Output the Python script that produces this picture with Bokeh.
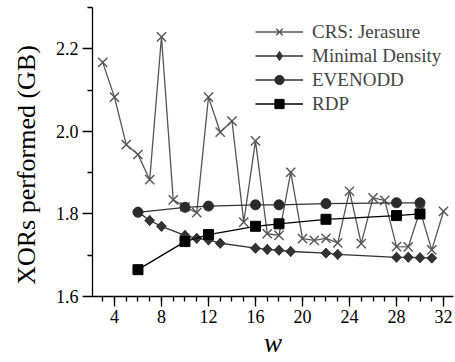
import math
from bokeh.plotting import figure
from bokeh.models import FixedTicker, Legend, LegendItem, Range1d
from bokeh.embed import file_html
from bokeh.resources import INLINE

# ---- data ----
crs_w = [3, 4, 5, 6, 7, 8, 9, 10, 11, 12, 13, 14, 15, 16, 17, 18, 19, 20, 21, 22,
         23, 24, 25, 26, 27, 28, 29, 30, 31, 32]
crs_v = [2.167, 2.083, 1.968, 1.944, 1.883, 2.229, 1.834, 1.817, 1.803, 2.083,
         1.998, 2.025, 1.780, 1.977, 1.752, 1.748, 1.901, 1.740, 1.736, 1.741,
         1.730, 1.855, 1.728, 1.839, 1.833, 1.721, 1.720, 1.808, 1.713, 1.806]

md_w = [6, 7, 8, 10, 11, 12, 13, 16, 17, 18, 19, 22, 23, 28, 29, 30, 31]
md_v = [1.805, 1.784, 1.770, 1.748, 1.741, 1.737, 1.729, 1.717, 1.714, 1.712,
        1.709, 1.705, 1.702, 1.695, 1.695, 1.694, 1.693]

eo_w = [6, 10, 12, 16, 18, 22, 28, 30]
eo_v = [1.804, 1.816, 1.819, 1.822, 1.822, 1.825, 1.827, 1.827]

rdp_w = [6, 10, 12, 16, 18, 22, 28, 30]
rdp_v = [1.665, 1.733, 1.750, 1.770, 1.776, 1.787, 1.796, 1.800]

x_major = [4, 8, 12, 16, 20, 24, 28, 32]
x_minor = list(range(3, 34))
y_major = [1.6, 1.8, 2.0, 2.2]
y_minor = [1.7, 1.9, 2.1, 2.3]

FONT = "Liberation Serif"

p = figure(frame_width=361, frame_height=289, output_backend="svg",
           toolbar_location=None, min_border_left=92, min_border_right=2,
           min_border_top=7, min_border_bottom=66,
           x_range=Range1d(2.13, 32.85), y_range=Range1d(1.6, 2.3))
p.outline_line_color = None
p.xgrid.visible = False
p.ygrid.visible = False

r1l = p.line(crs_w, crs_v, line_color="#555555", line_width=1.3)
r1m = p.scatter(crs_w, crs_v, marker="x", size=13, line_color="#555555", line_width=1.4)

r2l = p.line(md_w, md_v, line_color="#333333", line_width=1.3)
r2leg = p.scatter(md_w, md_v, marker="diamond", size=10,
                  fill_color="#333333", line_color="#333333")
r2m = p.scatter(md_w, md_v, marker="square", angle=math.pi / 4, size=7,
                fill_color="#333333", line_color="#333333")

r3l = p.line(eo_w, eo_v, line_color="#333333", line_width=1.3)
r3m = p.scatter(eo_w, eo_v, marker="circle", size=10, fill_color="#2a2a2a", line_color="#2a2a2a")

r4l = p.line(rdp_w, rdp_v, line_color="#000000", line_width=1.3)
r4m = p.scatter(rdp_w, rdp_v, marker="square", size=10, fill_color="#000000", line_color="#000000")

legend = Legend(items=[
    LegendItem(label="CRS: Jerasure", renderers=[r1l, r1m]),
    LegendItem(label="Minimal Density", renderers=[r2l, r2leg]),
    LegendItem(label="EVENODD", renderers=[r3l, r3m]),
    LegendItem(label="RDP", renderers=[r4l, r4m]),
])
legend.location = (163, 181)
legend.border_line_color = None
legend.background_fill_alpha = 0
legend.label_text_font = FONT
legend.label_text_font_size = "19px"
legend.glyph_width = 48
legend.glyph_height = 23
legend.label_height = 23
legend.spacing = 1
legend.padding = 4
legend.margin = 0
legend.label_standoff = 9
p.add_layout(legend)

for ax in (p.xaxis[0], p.yaxis[0]):
    ax.axis_line_color = "black"
    ax.axis_line_width = 1.3
    ax.major_tick_line_width = 1.3
    ax.minor_tick_line_width = 1.3
    ax.major_tick_out = 10
    ax.major_tick_in = 0
    ax.minor_tick_out = 5
    ax.minor_tick_in = 0
    ax.major_label_text_font = FONT
    ax.major_label_text_font_size = "18px"
    ax.major_label_text_color = "black"
    ax.axis_label_text_font = FONT
    ax.axis_label_text_font_size = "26px"
    ax.axis_label_text_color = "black"

p.xaxis.ticker = FixedTicker(ticks=x_major, minor_ticks=x_minor)
p.yaxis.ticker = FixedTicker(ticks=y_major, minor_ticks=y_minor)
p.yaxis.major_label_overrides = {1.6: "1.6", 1.8: "1.8", 2.0: "2.0", 2.2: "2.2"}
p.xaxis.major_label_standoff = 3
p.yaxis.major_label_standoff = 4
p.xaxis.axis_label = "w"
p.xaxis.axis_label_text_font_style = "italic"
p.xaxis.axis_label_text_font_size = "27px"
p.xaxis.axis_label_standoff = 2
p.yaxis.axis_label = "XORs performed (GB)\u2003"
p.yaxis.axis_label_text_font_style = "normal"
p.yaxis.axis_label_standoff = 12

open("out.html", "w").write(file_html(p, INLINE))
